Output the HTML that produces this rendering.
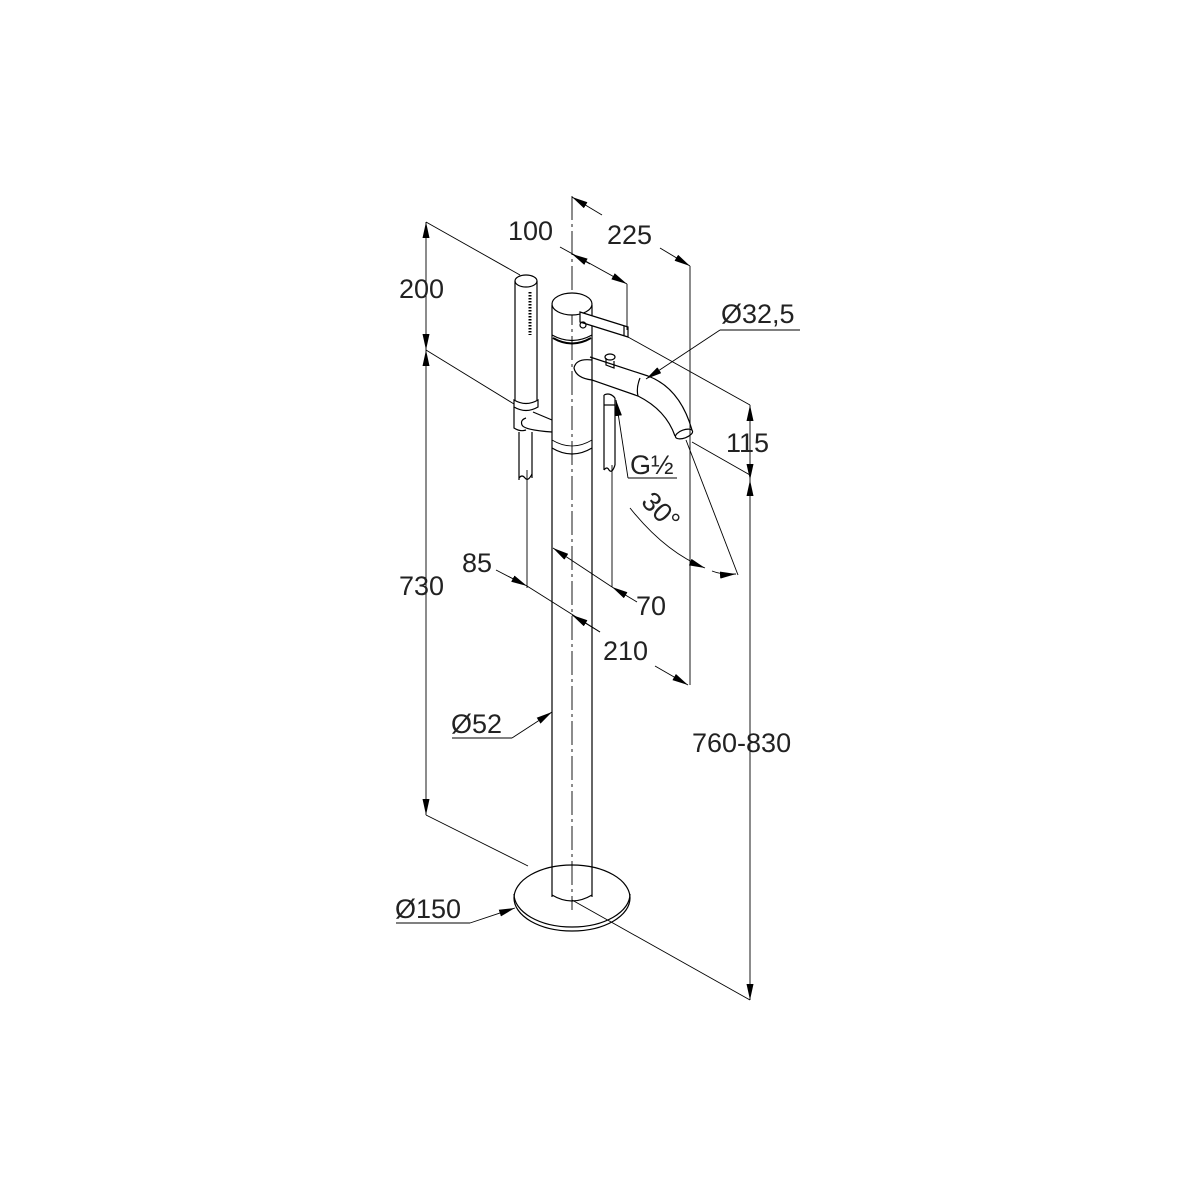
<!DOCTYPE html>
<html><head><meta charset="utf-8"><style>html,body{margin:0;background:#fff}svg{display:block}</style></head><body>
<svg width="1200" height="1200" viewBox="0 0 1200 1200" xmlns="http://www.w3.org/2000/svg">
<defs>
<marker id="a" viewBox="0 0 16 7" refX="16" refY="3.5" markerWidth="16" markerHeight="7" markerUnits="userSpaceOnUse" orient="auto-start-reverse"><path d="M0,0L16,3.5L0,7z" fill="#000"/></marker>
</defs>
<g fill="none" stroke="#000" stroke-width="1.2">
<line x1="572" y1="196" x2="572" y2="910" stroke-width="0.9" stroke-dasharray="24,4,3,4"/>
<line x1="552" y1="305" x2="552" y2="897"/>
<line x1="592" y1="305" x2="592" y2="897"/>
<ellipse cx="572" cy="304" rx="20" ry="11" fill="#fff"/>
<path d="M552,335 Q572,346 592,335"/>
<path d="M553,338 Q572,349 591,338" stroke-width="2"/>
<path d="M552,448 Q572,460 592,448"/>
<path d="M552,440 Q572,452 592,440" stroke-width="0.8"/>
<ellipse cx="572" cy="898" rx="58" ry="33"/>
<path d="M514,894 A58,33 0 0 0 630,894"/>
<path d="M552,895 Q572,907 592,895"/>
<path d="M580,312 L628,327 L628,337 L580,322 Z" fill="#fff"/>
<line x1="624" y1="326" x2="624" y2="336"/>
<circle cx="583" cy="325" r="3"/>
<path d="M592,360 Q576,358 574,368 Q576,378 592,380"/>
<path d="M590,357 L648,376 Q680,388 692,430"/>
<path d="M592,380 L638,396 Q666,410 675,436"/>
<path d="M640,378 Q636,388 638,396"/>
<ellipse cx="684" cy="434" rx="9" ry="4" transform="rotate(-20 684 434)"/>
<path d="M606,358 L606,365 L614,368 L614,361"/>
<ellipse cx="610" cy="357" rx="5" ry="3"/>
<path d="M604,395 L604,470 M615,398 L615,465 M604,395 Q610,392 615,398"/>
<path d="M604,470 q3,-4 5,0 q3,4 6,-5"/>
<path d="M604,405 L615,405"/>
<ellipse cx="526" cy="281" rx="11" ry="6"/>
<line x1="515" y1="281" x2="515" y2="400"/>
<line x1="537" y1="281" x2="537" y2="400"/>
<path d="M530,292 L530,335" stroke-width="3" stroke-dasharray="1.5,1.5"/>
<path d="M514,400 Q526,407 538,400 L538,407 Q526,414 514,407 Z"/>
<path d="M514,407 L514,428 Q520,432 526,430"/>
<path d="M526,418 Q520,420 522,425 Q524,430 552,432"/>
<path d="M533,412 L552,420"/>
<path d="M519,432 L519,480 M532,432 L532,478"/>
<path d="M519,478 q3,-4 6,0 q3,4 7,-4"/>
<g stroke-width="0.9">
<line x1="426" y1="222" x2="426" y2="350" marker-start="url(#a)" marker-end="url(#a)"/>
<line x1="426" y1="350" x2="426" y2="815" marker-start="url(#a)" marker-end="url(#a)"/>
<line x1="426" y1="222" x2="520" y2="275"/>
<line x1="426" y1="350" x2="514" y2="404"/>
<line x1="426" y1="815" x2="528" y2="866"/>
<line x1="750" y1="405" x2="750" y2="480" marker-start="url(#a)" marker-end="url(#a)"/>
<line x1="750" y1="480" x2="750" y2="1000" marker-start="url(#a)" marker-end="url(#a)"/>
<line x1="628" y1="337" x2="750" y2="405"/>
<line x1="692" y1="442" x2="750" y2="475"/>
<line x1="572" y1="900" x2="750" y2="1000"/>
<line x1="572" y1="197" x2="602" y2="215" marker-start="url(#a)"/>
<line x1="660" y1="248" x2="690" y2="266" marker-end="url(#a)"/>
<line x1="690" y1="266" x2="690" y2="685"/>
<line x1="560" y1="247" x2="627" y2="284" marker-end="url(#a)"/>
<line x1="572" y1="254" x2="590" y2="264" marker-start="url(#a)"/>
<line x1="627" y1="284" x2="627" y2="330"/>
<line x1="800" y1="330" x2="720" y2="330"/>
<line x1="720" y1="330" x2="646" y2="379" marker-end="url(#a)"/>
<line x1="628" y1="478" x2="616" y2="400" marker-end="url(#a)"/>
<line x1="628" y1="478" x2="677" y2="478"/>
<line x1="686" y1="440" x2="738" y2="575"/>
<path d="M630,508 Q665,552 705,568" marker-end="url(#a)"/>
<path d="M712,571 Q722,575 736,574" marker-end="url(#a)"/>
<line x1="496" y1="570" x2="527" y2="586" marker-end="url(#a)"/>
<line x1="527" y1="586" x2="600" y2="632"/>
<line x1="600" y1="632" x2="572" y2="615" marker-end="url(#a)"/>
<line x1="655" y1="666" x2="688" y2="685" marker-end="url(#a)"/>
<line x1="527" y1="470" x2="527" y2="588"/>
<line x1="612" y1="587" x2="553" y2="548" marker-end="url(#a)"/>
<line x1="637" y1="602" x2="612" y2="587" marker-end="url(#a)"/>
<line x1="612" y1="465" x2="612" y2="587"/>
<line x1="452" y1="738" x2="512" y2="738"/>
<line x1="512" y1="738" x2="552" y2="712" marker-end="url(#a)"/>
<line x1="396" y1="923" x2="470" y2="923"/>
<line x1="470" y1="923" x2="515" y2="908" marker-end="url(#a)"/>
</g>
</g>
<g font-family="Liberation Sans, Arial, sans-serif" font-size="27" fill="#222">
<text x="399" y="298">200</text>
<text x="399" y="595">730</text>
<text x="692" y="752">760-830</text>
<text x="726" y="452">115</text>
<text x="607" y="244">225</text>
<text x="508" y="240">100</text>
<text x="721" y="323">Ø32,5</text>
<text x="630" y="474">G½</text>
<text x="0" y="0" transform="translate(640,503) rotate(45)">30°</text>
<text x="462" y="572">85</text>
<text x="636" y="615">70</text>
<text x="603" y="660">210</text>
<text x="451" y="733">Ø52</text>
<text x="395" y="918">Ø150</text>
</g>
</svg>
</body></html>
